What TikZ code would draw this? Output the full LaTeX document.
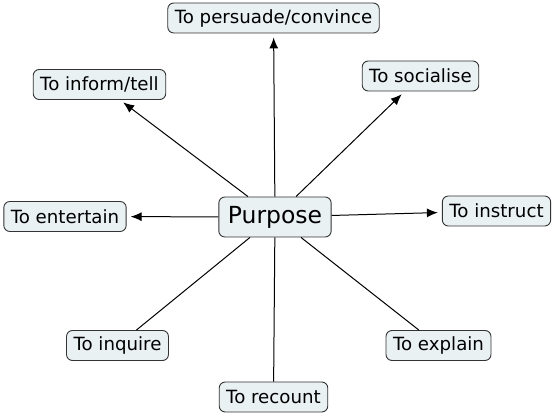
\documentclass[tikz,border=0pt]{standalone}
\usepackage{fontspec}
\setmainfont{DejaVu Sans}
\usetikzlibrary{arrows.meta}
\definecolor{boxfill}{HTML}{EAF1F3}
\definecolor{boxline}{HTML}{333333}
\tikzset{
  leaf/.style={draw=boxline, fill=boxfill, rounded corners=6pt, line width=0.9pt,
    minimum height=30pt, inner xsep=7pt, font=\fontsize{18.2}{20}\selectfont},
  hub/.style={leaf, minimum height=40pt, inner xsep=9pt, font=\fontsize{23.5}{26}\selectfont},
  link/.style={line width=1pt, draw=black},
  arr/.style={link, -{Latex[length=11pt,width=9pt]}, shorten >=4pt}
}
\begin{document}
\begin{tikzpicture}[x=1pt,y=-1pt]
\useasboundingbox (0,0) rectangle (555,414);
\node[hub] (P) at (275,217) {Purpose};
\node[leaf] (pers) at (273.5,18) {To persuade/convince};
\node[leaf] (inf) at (99.5,84.5) {To inform/tell};
\node[leaf] (soc) at (420.5,76) {To socialise};
\node[leaf] (ent) at (65,216.5) {To entertain};
\node[leaf] (ins) at (496.5,211) {To instruct};
\node[leaf] (inq) at (117.5,345.5) {To inquire};
\node[leaf] (exp) at (438.5,345.5) {To explain};
\node[leaf] (rec) at (273.5,397) {To recount};
\draw[arr] (P) -- (pers);
\draw[arr] (P) -- (inf);
\draw[arr] (P) -- (soc);
\draw[arr] (P) -- (ent);
\draw[arr] (P) -- (ins);
\draw[link] (P) -- (inq);
\draw[link] (P) -- (exp);
\draw[link] (P) -- (rec);
\end{tikzpicture}
\end{document}
